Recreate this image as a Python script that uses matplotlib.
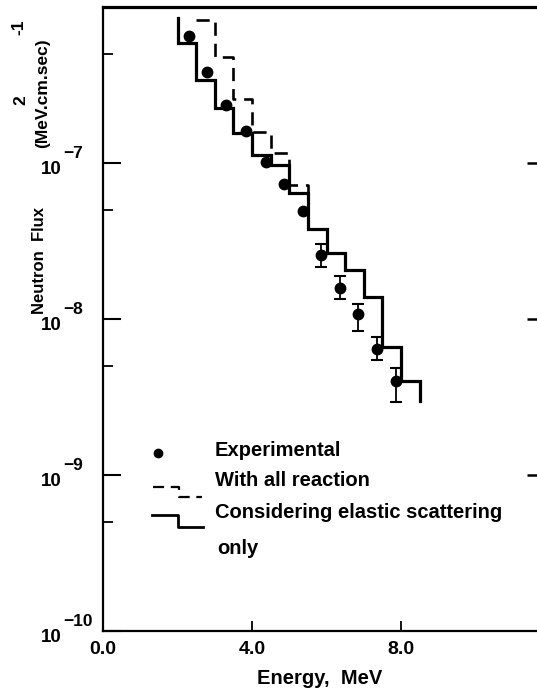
import numpy as np
import matplotlib
matplotlib.use("Agg")
import matplotlib.pyplot as plt
from matplotlib.transforms import blended_transform_factory, offset_copy

plt.rcParams['font.family'] = ['Liberation Sans', 'DejaVu Sans']
plt.rcParams['font.weight'] = 'bold'
plt.rcParams['axes.labelweight'] = 'bold'

# calculated spectrum, elastic scattering only (bin edges in MeV)
solid_edges = [2.0, 2.5, 3.0, 3.5, 4.0, 4.5, 5.0, 5.5, 6.0, 6.5, 7.0, 7.5, 8.0, 8.5]
solid_flux = [5.9e-7, 3.4e-7, 2.25e-7, 1.56e-7, 1.12e-7, 9.7e-8, 6.4e-8,
              3.8e-8, 2.65e-8, 2.06e-8, 1.38e-8, 6.6e-9, 4.0e-9]
solid_start = 8.5e-7
solid_end = 3.0e-9

# calculated spectrum, with all reactions
dash_edges = [2.5, 3.0, 3.5, 4.0, 4.5, 5.0, 5.5]
dash_flux = [8.3e-7, 4.8e-7, 2.57e-7, 1.58e-7, 1.16e-7, 7.2e-8]
dash_end = 3.8e-8

# experimental points
exp_E = [2.3, 2.8, 3.3, 3.85, 4.38, 4.86, 5.37, 5.85, 6.36, 6.85, 7.35, 7.87]
exp_flux = [6.5e-7, 3.85e-7, 2.35e-7, 1.6e-7, 1.01e-7, 7.3e-8, 4.9e-8,
            2.57e-8, 1.58e-8, 1.08e-8, 6.4e-9, 4.0e-9]
err_E = [5.85, 6.36, 6.85, 7.35, 7.87]
err_lo = [2.16e-8, 1.34e-8, 8.4e-9, 5.46e-9, 2.94e-9]
err_hi = [3.03e-8, 1.89e-8, 1.25e-8, 7.7e-9, 4.85e-9]
err_mid = [2.57e-8, 1.58e-8, 1.08e-8, 6.4e-9, 4.0e-9]

xticks = [0.0, 4.0, 8.0]
xtick_labels = ['0.0', '4.0', '8.0']
yticks = [1e-10, 1e-9, 1e-8, 1e-7]
ytick_exps = ['\u221210', '\u22129', '\u22128', '\u22127']


def step_xy(edges, vals, first, last):
    xs = np.repeat(edges, 2)
    ys = np.concatenate([[first], np.repeat(vals, 2), [last]])
    return xs, ys


W, H = 537, 693
fig = plt.figure(figsize=(W / 100, H / 100), dpi=100)
ax = fig.add_axes([103 / W, 1 - 631 / H, 434 / W, 624 / H])
ax.set_yscale('log')
ax.set_xlim(0, 11.65)
ax.set_ylim(1e-10, 1e-6)

xs, ys = step_xy(solid_edges, solid_flux, solid_start, solid_end)
ax.plot(xs, ys, color='black', lw=2.3, solid_joinstyle='miter')
xs, ys = step_xy(dash_edges, dash_flux, dash_flux[0], dash_end)
ax.plot(xs, ys, color='black', lw=1.9, dashes=(5, 3))

ax.plot(exp_E, exp_flux, 'o', color='black', ms=7.5)
yerr = [np.array(err_mid) - np.array(err_lo), np.array(err_hi) - np.array(err_mid)]
ax.errorbar(err_E, err_mid, yerr=yerr, fmt='none', ecolor='black',
            elinewidth=1.3, capsize=4.5, capthick=1.5)

# axes styling
ax.spines['right'].set_visible(False)
ax.spines['top'].set_linewidth(2.3)
ax.spines['left'].set_linewidth(1.6)
ax.spines['bottom'].set_linewidth(1.6)
ax.set_xticks(xticks)
ax.set_xticklabels(xtick_labels)
ax.set_yticks(yticks)
ax.set_yticklabels([])
ax.yaxis.set_minor_locator(matplotlib.ticker.LogLocator(base=10, subs=[5.0]))
ax.yaxis.set_minor_formatter(matplotlib.ticker.NullFormatter())
ax.tick_params(axis='x', direction='in', length=7, width=1.3, labelsize=14, pad=7)
ax.tick_params(axis='y', which='major', direction='in', length=13, width=1.5)
ax.tick_params(axis='y', which='minor', direction='in', length=7, width=1.3)
ax.set_xlabel('Energy,  MeV', fontsize=14.5, labelpad=8)

# short ticks on the right side
ax2 = ax.twinx()
ax2.set_yscale('log')
ax2.set_ylim(ax.get_ylim())
ax2.set_yticks(yticks[1:])
ax2.set_yticklabels([])
ax2.yaxis.set_minor_locator(matplotlib.ticker.NullLocator())
ax2.tick_params(axis='y', direction='in', length=7, width=1.8)
for s in ax2.spines.values():
    s.set_visible(False)

# y tick labels written as 10 with a raised exponent
trans = blended_transform_factory(ax.transAxes, ax.transData)
base_tr = offset_copy(trans, fig=fig, x=-41, y=-7, units='dots')
exp_tr = offset_copy(trans, fig=fig, x=-40, y=9, units='dots')
for v, e in zip(yticks, ytick_exps):
    ax.text(0, v, '10', transform=base_tr, ha='right', va='center', fontsize=13.5)
    ax.text(0, v, e, transform=exp_tr, ha='left', va='center', fontsize=12.5)


# y axis label, built from pieces as on the original
def fx(x):
    return x / W


def fy(y):
    return 1 - y / H


fig.text(fx(40), fy(260), 'Neutron  Flux', rotation=90, ha='center', va='center', fontsize=12)
fig.text(fx(43), fy(93), '(MeV.cm.sec)', rotation=90, ha='center', va='center', fontsize=12.5)
fig.text(fx(21), fy(100), '2', rotation=90, ha='center', va='center', fontsize=12.5)
fig.text(fx(19), fy(27), '-1', rotation=90, ha='center', va='center', fontsize=12.5)


# hand drawn legend
def ax_pt(x, y):
    return (x - 103) / 434, (631 - y) / 624


lx, ly = zip(ax_pt(158, 453))
ax.plot(lx, ly, 'o', color='black', ms=6, transform=ax.transAxes, clip_on=False)
px = [153, 179, 179, 202]
py = [487, 487, 497, 497]
pts = [ax_pt(a, b) for a, b in zip(px, py)]
ax.plot([p[0] for p in pts], [p[1] for p in pts], color='black', lw=1.6,
        dashes=(5, 3), transform=ax.transAxes)
px = [152, 178, 178, 203]
py = [515, 515, 527, 527]
pts = [ax_pt(a, b) for a, b in zip(px, py)]
ax.plot([p[0] for p in pts], [p[1] for p in pts], color='black', lw=2.0,
        transform=ax.transAxes)

for txt, (x, y) in [('Experimental', (215, 450)),
                    ('With all reaction', (215, 480)),
                    ('Considering elastic scattering', (215, 512)),
                    ('only', (217, 549))]:
    tx, ty = ax_pt(x, y)
    ax.text(tx, ty, txt, transform=ax.transAxes, ha='left', va='center', fontsize=14.5)

fig.savefig('out.png', dpi=100)
